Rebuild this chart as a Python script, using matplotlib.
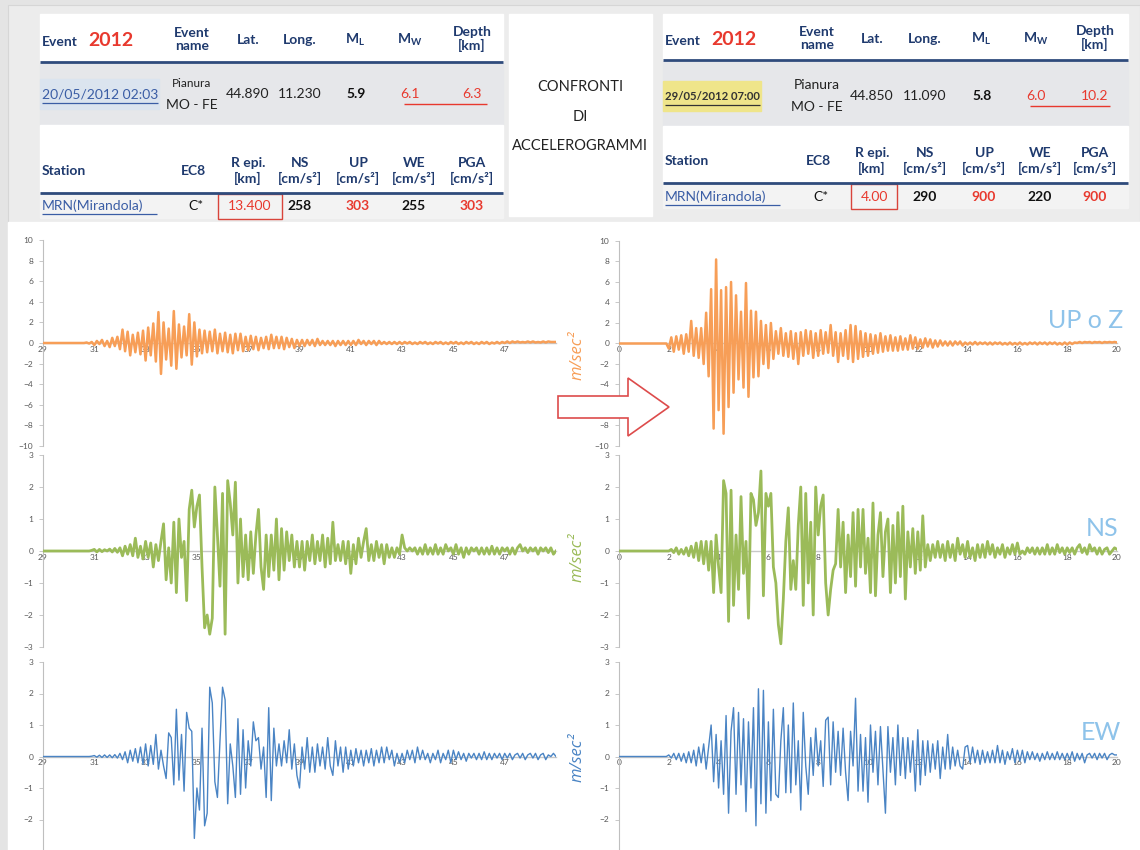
import numpy as np
import matplotlib
matplotlib.use("Agg")
import matplotlib.pyplot as plt
from matplotlib.patches import Rectangle, Polygon

plt.rcParams['font.family'] = ['Lato', 'DejaVu Sans']

W, H = 1140, 850

# ---- event tables ----
ev1 = {"date": "20/05/2012 02:03", "lat": "44.890", "lon": "11.230", "ml": "5.9", "mw": "6.1", "depth": "6.3",
       "repi": "13.400", "ns": "258", "up": "303", "we": "255", "pga": "303"}
ev2 = {"date": "29/05/2012 07:00", "lat": "44.850", "lon": "11.090", "ml": "5.8", "mw": "6.0", "depth": "10.2",
       "repi": "4.00", "ns": "290", "up": "900", "we": "220", "pga": "900"}

# ---- accelerograms (m/s^2), one value every 0.1 s ----
left_t0, left_t1 = 29, 49
right_t0, right_t1 = 0, 20

up_left = [
    0, 0, 0, 0, 0, 0, 0, 0, 0, 0,
    0, 0, 0, 0, 0, 0, 0, 0.05, -0.05, 0.1,
    -0.2, 0.2, -0.1, 0.3, -0.3, 0.2, -0.4, 0.5, -0.3, 0.6,
    -0.6, 1.3, -0.8, 1.1, -1.2, 0.8, -0.9, 1.0, -1.1, 1.2,
    -1.7, 1.5, -1.2, 1.9, -1.8, 3.0, -3.0, 2.0, -1.6, 1.4,
    -2.2, 3.1, -2.5, 1.8, -1.4, 1.6, -1.2, 2.8, -2.1, 2.0,
    -1.3, 1.3, -1.0, 1.2, -0.9, 1.1, -0.8, 1.3, -1.0, 0.9,
    -0.8, 1.0, -0.9, 0.8, -1.0, 0.9, -0.7, 0.9, -0.8, 0.6,
    -0.7, 0.7, -0.6, 0.6, -0.7, 0.5, -0.5, 0.6, -0.6, 0.8,
    -0.5, 0.6, -0.5, 0.6, -0.6, 0.5, -0.4, 0.4, -0.5, 0.3,
    -0.3, 0.3, -0.3, 0.3, -0.2, 0.3, -0.3, 0.4, -0.2, 0.2,
    -0.2, 0.2, -0.2, 0.2, -0.3, 0.2, -0.2, 0.2, -0.2, 0.2,
    -0.2, 0.2, -0.2, 0.3, -0.1, 0.2, -0.2, 0.2, -0.1, 0.2,
    -0.2, 0.2, -0.1, 0.1, -0.1, 0.1, -0.1, 0.1, -0.1, 0.1,
    -0.1, 0.1, -0.05, 0.1, -0.1, 0.05, -0.1, 0.1, -0.05, 0.1,
    -0.1, 0.05, -0.1, 0.1, -0.05, 0.1, -0.1, 0.05, -0.1, 0.1,
    -0.05, 0.1, -0.1, 0.05, -0.1, 0.1, -0.05, 0.1, -0.1, 0.05,
    -0.1, 0.1, -0.05, 0.1, -0.1, 0.05, -0.05, 0.1, -0.05, 0.1,
    0.0, 0.15, 0.0, 0.15, 0.05, 0.15, 0.05, 0.1, 0.05, 0.15,
    0.05, 0.15, 0.05, 0.1, 0.05, 0.15, 0.05, 0.15, 0.1, 0.1,
    0.1]

up_right = [
    0, 0, 0, 0, 0, 0, 0, 0, 0, 0,
    0, 0, 0, 0, 0, 0, 0, 0, 0, 0,
    -0.5, 0.6, -0.8, 0.7, -0.6, 0.8, -1.0, 0.9, -0.8, 2.2,
    -1.2, 1.5, -1.4, 1.5, -2.0, 3.0, -3.2, 5.3, -8.3, 8.2,
    -6.5, 5.2, -8.8, 5.5, -6.2, 6.0, -4.8, 4.7, -3.5, 3.1,
    -4.3, 5.9, -5.2, 3.2, -3.3, 3.1, -3.2, 2.2, -2.0, 1.8,
    -2.4, 2.0, -1.5, 1.2, -1.0, 1.5, -1.2, 1.0, -1.3, 1.2,
    -1.5, 1.0, -2.0, 1.1, -1.2, 1.3, -1.0, 1.2, -1.4, 1.0,
    -1.2, 1.3, -1.0, 1.1, -0.9, 1.8, -1.2, 1.1, -1.8, 1.0,
    -1.2, 1.3, -1.5, 1.8, -1.8, 1.7, -1.5, 1.2, -1.3, 1.0,
    -1.2, 0.9, -1.0, 0.8, -0.9, 1.0, -0.8, 0.7, -0.7, 0.8,
    -0.7, 0.6, -0.7, 0.7, -0.6, 0.5, -0.6, 0.8, -0.5, 0.6,
    -0.5, 0.4, -0.4, 0.5, -0.3, 0.4, -0.4, 0.3, -0.3, 0.3,
    -0.2, 0.2, -0.2, 0.2, -0.2, 0.2, -0.1, 0.2, -0.2, 0.1,
    -0.1, 0.1, -0.1, 0.15, -0.1, 0.1, -0.05, 0.1, -0.1, 0.1,
    -0.1, 0.1, -0.05, 0.1, -0.1, 0.05, -0.1, 0.1, -0.1, 0.05,
    -0.1, 0.1, -0.1, 0.05, -0.1, 0.1, -0.05, 0.1, -0.1, 0.1,
    -0.05, 0.1, -0.1, 0.1, -0.05, 0.1, -0.1, 0.05, -0.1, 0.1,
    -0.1, 0.1, -0.05, 0.1, 0.05, 0.15, 0.05, 0.15, 0.1, 0.15,
    0.05, 0.15, 0.1, 0.15, 0.05, 0.15, 0.1, 0.15, 0.1, 0.15,
    0.1]

ns_left = [
    0, 0, 0, 0, 0, 0, 0, 0, 0, 0,
    0, 0, 0, 0, 0, 0, 0, 0, 0, 0.02,
    0.05, -0.03, 0.05, -0.02, 0.04, 0.0, 0.06, -0.03, 0.08, -0.04,
    0.1, -0.15, 0.15, -0.1, 0.2, -0.15, 0.4, -0.2, 0.15, -0.25,
    0.3, -0.2, 0.25, -0.5, 0.2, -0.3, 0.3, 0.85, -0.9, 0.1,
    -1.0, 0.9, -1.3, 1.0, -0.2, 0.3, -1.55, 1.3, 1.9, 0.75,
    1.4, 1.75, -0.5, -2.4, -2.0, -2.6, -2.1, 2.0, 0.5, -1.1,
    1.8, -2.6, 2.2, 1.5, 0.5, 2.15, -1.0, 1.0, -0.8, 0.5,
    -0.9, 0.6, -0.7, 0.5, 1.3, -0.5, -1.2, 0.5, -0.8, 0.5,
    -0.6, 1.0, -0.9, 0.7, -0.6, 0.6, -0.3, 0.5, -0.5, 0.3,
    -0.5, 0.3, -0.6, 0.3, -0.3, 0.5, -0.4, 0.3, -0.3, 0.5,
    -0.5, 0.4, -0.4, 0.9, -0.3, 0.2, -0.3, 0.3, -0.4, 0.3,
    -0.7, 0.2, -0.4, 0.4, -0.2, 0.3, 0.7, -0.3, 0.2, -0.3,
    0.3, -0.2, 0.2, -0.4, 0.2, -0.2, 0.1, -0.2, 0.1, -0.1,
    0.5, 0.1, 0.0, 0.1, 0.0, 0.1, -0.1, 0.1, -0.1, 0.2,
    -0.1, 0.1, -0.1, 0.2, -0.1, 0.1, -0.1, 0.2, 0.0, 0.1,
    -0.1, 0.2, -0.1, 0.1, -0.2, 0.1, -0.1, 0.1, 0.0, 0.1,
    -0.1, 0.1, -0.1, 0.1, -0.1, 0.15, -0.1, 0.1, -0.1, 0.1,
    0.0, 0.1, -0.1, 0.1, -0.1, 0.1, 0.2, 0.0, 0.1, -0.05,
    0.1, 0.0, 0.1, -0.1, 0.1, 0.0, 0.1, -0.05, 0.1, -0.1,
    0.0]

ns_right = [
    0, 0, 0, 0, 0, 0, 0, 0, 0, 0,
    0, 0, 0, 0, 0, 0, 0, 0, 0, 0,
    0.0, 0.05, -0.05, 0.1, -0.1, 0.05, -0.1, 0.1, -0.15, 0.15,
    -0.2, 0.25, -0.3, 0.3, -0.4, 0.3, -0.6, 0.3, -1.3, 0.5,
    -0.5, -1.3, 2.2, 1.8, -2.2, 1.9, -1.7, 0.5, -1.2, 1.7,
    -0.7, 0.3, -2.1, 1.8, 1.6, 0.8, 1.2, 2.5, -1.4, 1.8,
    1.4, 1.8, -0.5, -1.0, -2.3, -2.9, -1.5, 0.3, 1.35, -1.2,
    -0.3, -1.2, 0.8, 2.0, -1.7, 1.8, -1.0, 0.9, -2.0, 2.0,
    0.5, 1.4, 1.75, -1.0, -2.0, -1.2, -0.6, -0.4, 1.3, -0.5,
    0.9, -1.3, 0.5, -0.8, 1.2, -1.1, 1.3, -0.5, 1.3, -0.7,
    0.4, -1.3, 1.5, -1.4, 0.5, 1.2, -0.8, 0.6, 1.0, -1.3,
    0.8, -1.0, 1.2, -0.8, 1.4, -1.5, 0.6, -0.5, 0.7, -0.7,
    0.6, -0.6, 1.1, -0.5, 0.2, -0.3, 0.2, -0.2, 0.3, -0.2,
    0.2, -0.3, 0.3, -0.2, 0.2, -0.3, 0.4, -0.1, 0.2, -0.2,
    0.3, -0.2, 0.1, -0.3, 0.2, -0.2, 0.2, -0.2, 0.3, -0.1,
    0.2, -0.2, 0.1, -0.1, 0.2, -0.2, 0.1, -0.1, 0.2, -0.1,
    0.25, -0.1, 0.0, -0.1, 0.1, -0.05, 0.1, -0.1, 0.1, -0.1,
    0.1, -0.1, 0.2, -0.1, 0.1, -0.1, 0.2, -0.05, 0.1, -0.1,
    0.1, -0.05, 0.1, -0.1, 0.1, 0.2, -0.05, 0.1, -0.1, 0.2,
    0.0, 0.1, -0.1, 0.1, -0.1, 0.05, 0.1, -0.1, 0.0, 0.1,
    0.05]

ew_left = [
    0, 0, 0, 0, 0, 0, 0, 0, 0, 0,
    0, 0, 0, 0, 0, 0, 0, 0, 0, 0.01,
    0.03, -0.02, 0.04, -0.03, 0.05, -0.03, 0.05, -0.04, 0.06, -0.05,
    0.1, -0.1, 0.15, -0.2, 0.2, -0.15, 0.25, -0.2, 0.3, -0.25,
    0.4, -0.3, 0.35, -0.25, 0.7, -0.4, 0.2, -0.3, -0.7, 0.75,
    0.6, -0.9, 1.5, -0.75, 0.7, -1.1, 1.4, 0.9, 0.8, -2.6,
    -1.0, -1.7, 0.9, -2.2, -1.8, 2.2, 1.7, -0.8, -1.3, 0.5,
    2.2, 1.8, -1.5, 0.4, -0.3, -1.3, 1.2, -1.2, 0.85, -1.0,
    0.5, -0.3, 1.1, 0.5, 0.6, -0.4, 0.3, -1.3, 1.55, -1.4,
    0.9, -0.3, 0.4, -0.3, 0.5, -0.2, 0.85, -0.4, 0.4, -0.6,
    -1.0, 0.3, -0.4, 0.6, -0.5, 0.3, -0.5, 0.4, -0.3, 0.3,
    -0.4, 0.6, -0.3, -0.6, 0.5, -0.3, 0.3, -0.5, 0.3, -0.4,
    0.2, -0.3, 0.25, -0.2, 0.2, -0.3, 0.2, -0.2, 0.25, -0.3,
    0.2, -0.2, 0.3, -0.2, 0.3, -0.1, 0.2, -0.3, 0.1, -0.2,
    0.1, -0.2, 0.2, -0.1, 0.2, -0.2, 0.3, -0.1, 0.2, -0.1,
    0.1, -0.2, 0.1, -0.1, 0.2, -0.2, 0.1, -0.1, 0.2, -0.2,
    0.2, -0.1, 0.15, -0.1, 0.1, -0.15, 0.1, -0.05, 0.1, -0.1,
    0.1, -0.1, 0.15, -0.1, 0.1, -0.1, 0.1, -0.05, 0.1, -0.1,
    0.1, -0.05, 0.1, -0.1, 0.05, 0.1, -0.05, 0.1, -0.1, 0.05,
    0.1, -0.05, 0.1, -0.1, 0.05, 0.1, -0.1, 0.05, 0.0, 0.1,
    0.0]

ew_right = [
    0, 0, 0, 0, 0, 0, 0, 0, 0, 0,
    0, 0, 0, 0, 0, 0, 0, 0, 0, 0,
    0.05, -0.05, 0.1, -0.1, 0.1, -0.15, 0.1, -0.2, 0.15, -0.2,
    0.2, -0.3, 0.3, -0.2, 0.4, -0.4, 0.3, 1.0, -0.8, 0.7,
    -1.0, 0.5, -1.2, 1.3, -1.8, 0.8, 1.55, -1.2, 1.4, -0.9,
    1.2, -1.75, 1.1, -1.0, 1.55, -2.2, 2.15, -1.5, 2.1, -1.8,
    1.1, -1.4, 1.5, -1.2, -1.3, 0.5, 1.55, -1.15, 1.0, -1.15,
    1.7, -0.9, 0.5, -1.7, 1.4, -0.3, -1.2, 0.6, -0.6, 0.9,
    -0.3, 0.5, -0.95, 1.15, 1.25, -0.9, 1.1, -0.5, 0.8, -0.6,
    0.9, -0.5, -1.4, 0.8, -0.3, 1.85, -1.1, 0.7, -1.1, 0.6,
    -1.45, 1.0, -0.5, 0.8, -0.9, 0.95, -0.4, -1.8, 0.95, -0.5,
    0.6, -0.9, 1.0, -0.6, 0.6, -0.7, 0.6, -0.5, 0.5, -1.1,
    0.85, -0.9, 0.5, -0.6, 0.5, -0.5, 0.4, -0.4, 0.5, -0.7,
    0.3, -0.4, 0.7, -0.4, 0.3, -0.3, 0.2, -0.3, -0.4, 0.3,
    0.35, -0.2, 0.3, -0.2, 0.2, -0.25, 0.2, -0.2, 0.15, -0.2,
    0.2, -0.2, 0.35, -0.2, 0.2, -0.25, 0.15, -0.1, 0.25, -0.2,
    0.2, -0.15, 0.2, -0.2, 0.15, -0.1, 0.15, -0.1, 0.1, -0.15,
    0.1, -0.1, 0.15, -0.1, 0.1, -0.1, 0.15, -0.1, 0.1, -0.1,
    0.1, -0.1, 0.15, -0.15, 0.1, -0.1, 0.1, -0.2, 0.05, 0.1,
    -0.05, 0.1, -0.1, 0.1, -0.05, 0.1, -0.1, 0.05, 0.1, 0.05,
    0.05]

ORANGE = "#f79e57"
GREEN = "#9bbb59"
BLUE = "#4a84c4"
HEAD = "#1f3a6e"
RED = "#e8392e"
LINK = "#3a5da5"
LABEL = "#8ec3ea"

fig = plt.figure(figsize=(W / 100, H / 100), dpi=100)

# background layer in pixel coordinates
bg = fig.add_axes([0, 0, 1, 1], zorder=0)
bg.set_xlim(0, W)
bg.set_ylim(H, 0)
bg.axis("off")
bg.add_patch(Rectangle((0, 0), W, H, color="#e4e4e4"))
bg.add_patch(Rectangle((8, 5), W - 8, 217, facecolor="#ececec", edgecolor="#d6d6d6", lw=0.8))
bg.add_patch(Rectangle((8, 222), W - 8, H - 222, color="white"))


def px_axes(x0, y0, x1, y1, z=2):
    return fig.add_axes([x0 / W, 1 - y1 / H, (x1 - x0) / W, (y1 - y0) / H], zorder=z)


top = px_axes(0, 0, W, H, z=5)
top.set_xlim(0, W)
top.set_ylim(H, 0)
top.axis("off")
top.patch.set_alpha(0)


def txt(x, y, s, size=10, color=HEAD, weight="bold", ha="center", **kw):
    return top.text(x, y, s, fontsize=size, color=color, fontweight=weight, ha=ha, va="center", **kw)


def hline(x0, x1, y, color, lw):
    top.plot([x0, x1], [y, y], color=color, lw=lw, solid_capstyle="butt")


def table(x0, x1, y_hdr, y_line1, y_data, y_row2, y_st, y_line2, y_last, y_end, cols, ev, date_style):
    # row backgrounds
    bg.add_patch(Rectangle((x0, 14), x1 - x0, y_line1 - 14, color="white"))
    bg.add_patch(Rectangle((x0, y_line1 + 2), x1 - x0, y_row2 - y_line1 - 2, color="#e6e7ea"))
    bg.add_patch(Rectangle((x0, y_row2), x1 - x0, y_line2 - y_row2, color="white"))
    bg.add_patch(Rectangle((x0, y_line2), x1 - x0, y_end - y_line2, color="#f3f3f3"))
    hline(x0, x1, y_line1, "#2f4b7c", 2)
    hline(x0, x1, y_line2, "#2f4b7c", 2)

    c_name, c_lat, c_lon, c_ml, c_mw, c_dep = cols
    txt(x0 + 2, y_hdr + 2, "Event", ha="left")
    txt(x0 + 48, y_hdr, "2012", size=14, color=RED, ha="left")
    txt(c_name, y_hdr - 1, "Event\nname", linespacing=1.1)
    txt(c_lat, y_hdr, "Lat.")
    txt(c_lon, y_hdr, "Long.")
    txt(c_ml, y_hdr, r"M$_\mathregular{L}$")
    txt(c_mw, y_hdr, r"M$_\mathregular{W}$")
    txt(c_dep, y_hdr - 1, "Depth\n[km]", linespacing=1.1)

    # event row
    dx1, hl_col, d_col, d_w, d_size, p_size = date_style
    bg.add_patch(Rectangle((x0, y_data - 15), dx1 - x0 + 1, 30, color=hl_col))
    txt(x0 + 2, y_data, ev["date"], color=d_col, weight=d_w, ha="left", size=d_size)
    hline(x0 + 2, dx1, y_data + 9, d_col, 0.9)
    txt(c_name, y_data - 11, "Pianura", color="#222222", weight="normal", size=p_size)
    txt(c_name, y_data + 11, "MO - FE", color="#222222", weight="normal")
    txt(c_lat, y_data, ev["lat"], color="#222222", weight="normal")
    txt(c_lon, y_data, ev["lon"], color="#222222", weight="normal")
    txt(c_ml + 1, y_data, ev["ml"], color="#111111")
    txt(c_mw, y_data, ev["mw"], color=RED, weight="normal")
    txt(c_dep, y_data, ev["depth"], color=RED, weight="normal")
    hline(c_mw - 6, c_dep + 15, y_data + 10, RED, 1.0)

    # station header
    txt(x0 + 2, y_st, "Station", ha="left")
    txt(c_name + 1, y_st, "EC8")
    txt(c_lat, y_st, "R epi.\n[km]", linespacing=1.3)
    s_cols = [c_lon, c_ml + 3, c_mw + 4, c_dep]
    for cx, lab in zip(s_cols, ["NS", "UP", "WE", "PGA"]):
        txt(cx, y_st, lab + "\n[cm/s\u00b2]", linespacing=1.3)

    # station row
    txt(x0 + 2, y_last, "MRN(Mirandola)", color=LINK, weight="normal", ha="left")
    hline(x0 + 2, x0 + 117, y_last + 8, LINK, 0.9)
    txt(c_name + 4, y_last, "C*", color="#111111", weight="normal")
    txt(c_lat + 2, y_last, ev["repi"], color=RED, weight="normal")
    bw = 64 if len(ev["repi"]) > 4 else 46
    top.add_patch(Rectangle((c_lat + 2 - bw / 2, y_line2 + 1), bw, y_end - y_line2, fill=False,
                            edgecolor="#d9443b", lw=1.0))
    txt(s_cols[0], y_last, ev["ns"], color="#111111")
    txt(s_cols[1], y_last, ev["up"], color=RED)
    txt(s_cols[2], y_last, ev["we"], color="#111111")
    txt(s_cols[3], y_last, ev["pga"], color=RED)


table(40, 503, 40, 62, 94, 125, 171, 193, 206, 218, (192, 248, 300, 355, 410, 472), ev1,
      (158, "#dbe4ef", LINK, "normal", 10, 8.5))
table(663, 1128, 39, 60, 96, 126, 161, 183, 197, 208, (817, 872, 925, 981, 1036, 1095), ev2,
      (760, "#efe58a", "#333333", "bold", 8.2, 10))

# middle title box: shrink the words so the longest one fits the box width
bg.add_patch(Rectangle((509, 14), 143, 202, color="white"))
renderer = fig.canvas.get_renderer()
words = []
for yy, word in zip([87, 117, 146], ["CONFRONTI", "DI", "ACCELEROGRAMMI"]):
    words.append(top.text(580, yy, word, fontsize=14, color="#222222", ha="center", va="center"))
widest = max(w.get_window_extent(renderer).width for w in words)
for w in words:
    w.set_fontsize(14 * 136 / widest)


def trace(ax_box, t0, t1, vals, ylim, yticks, xticks, color, lw):
    ax = px_axes(*ax_box)
    t = np.linspace(t0, t1, len(vals))
    ax.plot(t, vals, color=color, lw=lw, zorder=3)
    ax.set_xlim(t0, t1)
    ax.set_ylim(*ylim)
    ax.patch.set_alpha(0)
    for s in ["top", "right"]:
        ax.spines[s].set_visible(False)
    ax.spines["left"].set_color("#bfbfbf")
    ax.spines["left"].set_linewidth(0.8)
    ax.spines["bottom"].set_position(("data", 0))
    ax.spines["bottom"].set_color("#c8c8c8")
    ax.spines["bottom"].set_linewidth(1.0)
    ax.spines["bottom"].set_zorder(2)
    ax.set_xticks(xticks)
    ax.set_yticks(yticks)
    ax.tick_params(axis="x", length=0, pad=2, labelsize=6, labelcolor="#595959")
    ax.tick_params(axis="y", length=3, color="#bfbfbf", width=0.6, pad=4, labelsize=6, labelcolor="#595959")
    return ax


lx = list(range(29, 48, 2))
rx = list(range(0, 21, 2))
trace((43, 240, 556, 446), left_t0, left_t1, up_left, (-10, 10), range(-10, 11, 2), lx, ORANGE, 1.8)
trace((619, 241, 1117, 446), right_t0, right_t1, up_right, (-10, 10), range(-10, 11, 2), rx, ORANGE, 1.8)
trace((43, 455, 556, 647), left_t0, left_t1, ns_left, (-3, 3), range(-3, 4), lx, GREEN, 2.0)
trace((619, 455, 1117, 647), right_t0, right_t1, ns_right, (-3, 3), range(-3, 4), rx, GREEN, 2.0)
trace((43, 662, 556, 851), left_t0, left_t1, ew_left, (-3, 3), range(-2, 4), lx, BLUE, 1.0)
trace((619, 662, 1117, 851), right_t0, right_t1, ew_right, (-3, 3), range(-2, 4), rx, BLUE, 1.0)

# axis titles and component labels
for yy, col in zip([355, 558, 757], [ORANGE, GREEN, BLUE]):
    top.text(578, yy, "m/sec\u00b2", rotation=90, fontsize=12, color=col, style="italic",
             ha="center", va="center", family=["Open Sans", "DejaVu Sans"])
top.text(1086, 320, "UP o Z", fontsize=18, color=LABEL, ha="center", va="center")
top.text(1102, 528, "NS", fontsize=18, color=LABEL, ha="center", va="center")
top.text(1101, 732, "EW", fontsize=18, color=LABEL, ha="center", va="center")

# red hollow arrow
top.add_patch(Polygon([(558, 396), (628, 396), (628, 378), (669, 407), (628, 436), (628, 418), (558, 418)],
                      closed=True, facecolor="white", edgecolor="#dd4b4b", lw=1.2, zorder=6))

fig.savefig("out.png", dpi=100)
